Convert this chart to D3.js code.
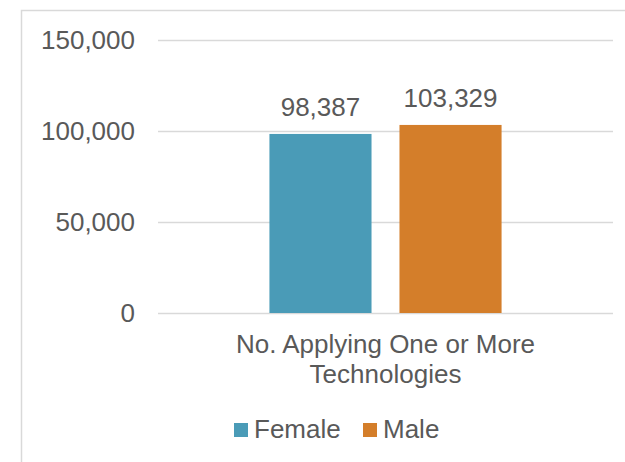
<!DOCTYPE html>
<html>
<head>
<meta charset="utf-8">
<style>
    body { margin: 0; background: #fff; }
    svg text { font-family: "Liberation Sans", Arial, sans-serif; fill: #595959; }
</style>
<script src="https://cdn.jsdelivr.net/npm/d3@7"></script>
</head>
<body>
<div id="chart"></div>
<script>
    // chart data
    var categories = ["No. Applying One or More Technologies"];
    var seriesNames = ["Female", "Male"];
    var female = [98387];
    var male = [103329];
    var yTicks = [0, 50000, 100000, 150000];
    var colors = ["#4A9BB7", "#D47E2A"];

    var width = 625, height = 462;
    var svg = d3.select("#chart").append("svg")
        .attr("width", width)
        .attr("height", height);

    // chart area frame (only left and top edges show in the crop)
    svg.append("path")
        .attr("d", "M21.5," + height + "V10.5H" + width)
        .attr("fill", "none")
        .attr("stroke", "#D9D9D9")
        .attr("stroke-width", 1.5);

    var y = d3.scaleLinear().domain([0, 150000]).range([313, 40]);
    var x0 = d3.scaleBand().domain(categories).range([158, 613]).paddingInner(0).paddingOuter(0.48);
    var x1 = d3.scaleBand().domain(seriesNames).range([0, x0.bandwidth()]).paddingInner(0.215);

    // gridlines
    svg.append("g").selectAll("line")
        .data(yTicks)
        .enter().append("line")
        .attr("x1", 158).attr("x2", 613)
        .attr("y1", function (d) { return Math.round(y(d)) + 0.5; })
        .attr("y2", function (d) { return Math.round(y(d)) + 0.5; })
        .attr("stroke", "#D9D9D9")
        .attr("stroke-width", 1.5);

    // y axis labels
    var fmt = d3.format(",");
    svg.append("g").selectAll("text")
        .data(yTicks)
        .enter().append("text")
        .attr("x", 135)
        .attr("y", function (d) { return y(d) + 9.3; })
        .attr("text-anchor", "end")
        .style("font-size", "26px")
        .text(function (d) { return fmt(d); });

    var rows = categories.map(function (c, i) {
        return { cat: c, values: [female[i], male[i]] };
    });

    var groups = svg.append("g").selectAll("g")
        .data(rows)
        .enter().append("g")
        .attr("transform", function (d) { return "translate(" + x0(d.cat) + ",0)"; });

    groups.selectAll("rect")
        .data(function (d) { return d.values.map(function (v, j) { return { key: seriesNames[j], value: v, i: j }; }); })
        .enter().append("rect")
        .attr("x", function (d) { return x1(d.key); })
        .attr("width", x1.bandwidth())
        .attr("y", function (d) { return y(d.value); })
        .attr("height", function (d) { return y(0) - y(d.value); })
        .attr("fill", function (d) { return colors[d.i]; });

    // value labels
    groups.selectAll("text.val")
        .data(function (d) { return d.values.map(function (v, j) { return { key: seriesNames[j], value: v }; }); })
        .enter().append("text")
        .attr("class", "val")
        .attr("x", function (d) { return x1(d.key) + x1.bandwidth() / 2; })
        .attr("y", function (d) { return y(d.value) - 17.5; })
        .attr("text-anchor", "middle")
        .style("font-size", "26px")
        .text(function (d) { return fmt(d.value); });

    // category labels, wrapped
    var catText = svg.append("g").selectAll("text")
        .data(categories)
        .enter().append("text")
        .attr("text-anchor", "middle")
        .style("font-size", "26px")
        .attr("x", function (d) { return x0(d) + x0.bandwidth() / 2; })
        .attr("y", 353);

    catText.each(function (d) {
        var el = d3.select(this);
        var cx = +el.attr("x");
        var words = d.split(" ");
        var line = [], lineNo = 0;
        var tspan = el.append("tspan").attr("x", cx).attr("dy", 0);
        words.forEach(function (w) {
            line.push(w);
            tspan.text(line.join(" "));
            if (tspan.node().getComputedTextLength() > 330 && line.length > 1) {
                line.pop();
                tspan.text(line.join(" "));
                line = [w];
                lineNo++;
                tspan = el.append("tspan").attr("x", cx).attr("dy", 30).text(w);
            }
        });
    });

    // legend
    var legendX = [234, 363];
    var legend = svg.append("g").selectAll("g")
        .data(seriesNames)
        .enter().append("g")
        .attr("transform", function (d, i) { return "translate(" + legendX[i] + ",423)"; });

    legend.append("rect")
        .attr("width", 14).attr("height", 14)
        .attr("fill", function (d, i) { return colors[i]; });

    legend.append("text")
        .attr("x", 20)
        .attr("y", 14.5)
        .style("font-size", "26px")
        .text(function (d) { return d; });
</script>
</body>
</html>
